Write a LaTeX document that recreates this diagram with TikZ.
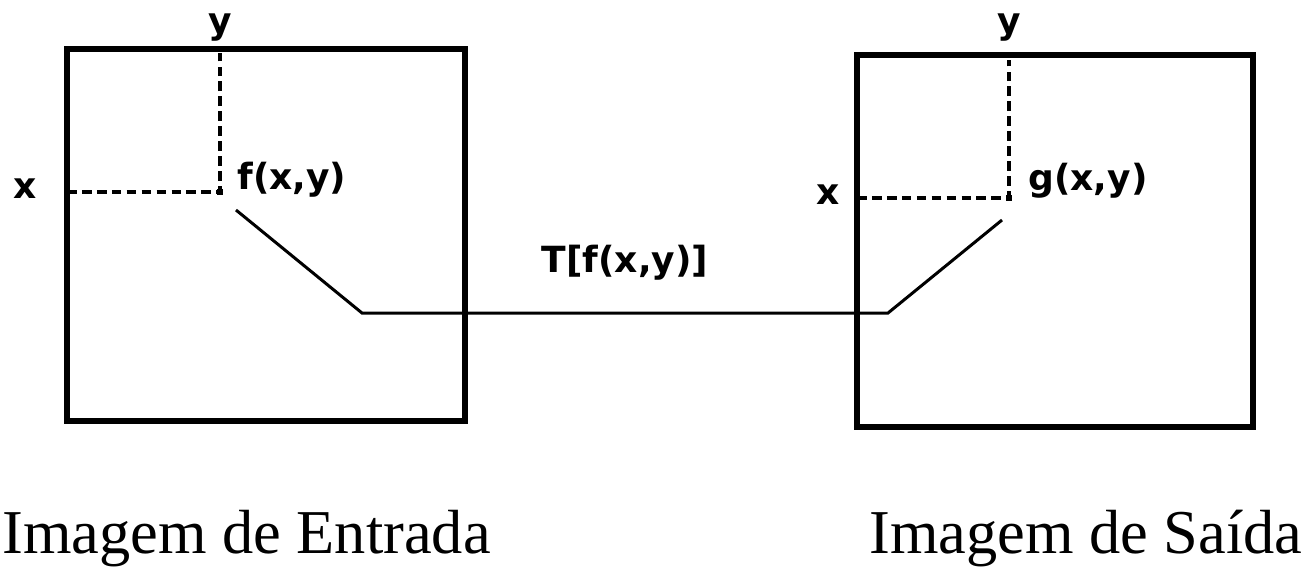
\documentclass[tikz,border=0pt]{standalone}
\usepackage{fontspec}
\setmainfont{Liberation Serif}
\newfontfamily\pixfont{DejaVu Sans}
\usetikzlibrary{positioning,calc}

\begin{document}
\begin{tikzpicture}[x=0.02cm, y=-0.02cm,
    imgbox/.style={line width=2.9pt},
    guide/.style={line width=1.9pt, dash pattern=on 5.5pt off 3pt},
    link/.style={line width=1.7pt},
    lbl/.style={font=\pixfont\bfseries\fontsize{20.5}{20.5}\selectfont, inner sep=0pt},
    caption/.style={font=\fontsize{35.5}{35.5}\selectfont, inner sep=0pt, anchor=base}]
    \useasboundingbox (0,0) rectangle (1307,566);

    % input image
    \draw[imgbox] (67,49) rectangle (465,421);
    \coordinate (fpt) at (220,192);
    \node[lbl, anchor=base] (fy) at (220,33) {y};
    \node[lbl, anchor=base] (fx) at (25,198) {x};
    \draw[guide] (67,192) -- (fpt) -- (220,53);
    \fill ($(fpt)+(-3,-3)$) rectangle ($(fpt)+(3,3)$);
    \node[lbl, anchor=base west] (f) at (237,189) {f(x,y)};
    \node[caption, anchor=base west] (inlbl) at (2,553) {Imagem de Entrada};

    % output image
    \draw[imgbox] (857,55) rectangle (1253,427);
    \coordinate (gpt) at (1009,198);
    \node[lbl, anchor=base] (gy) at (1009,33) {y};
    \node[lbl, anchor=base] (gx) at (828,204) {x};
    \draw[guide] (857,198) -- (gpt) -- (1009,60);
    \fill ($(gpt)+(-3,-3)$) rectangle ($(gpt)+(3,3)$);
    \node[lbl, anchor=base west] (g) at (1028,190) {g(x,y)};
    \node[caption] (outlbl) at (1086,553) {Imagem de Saída};

    % transformation
    \coordinate (tin) at (236,210);
    \coordinate (tout) at (1002,220);
    \draw[link] (tin) -- (362,313) -- node[lbl, above=18pt] (T) {T[f(x,y)]} (888,313) -- (tout);
\end{tikzpicture}
\end{document}
